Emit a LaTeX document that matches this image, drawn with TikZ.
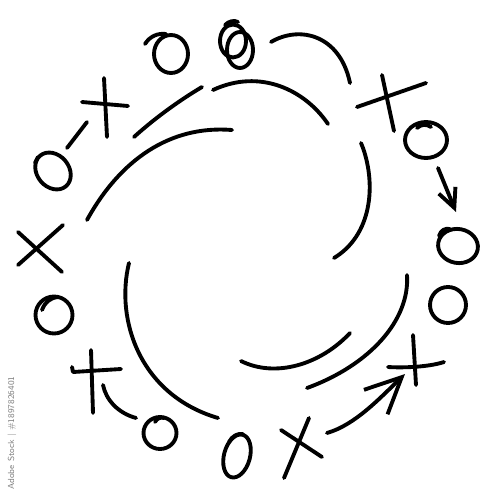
\documentclass[tikz,border=0pt]{standalone}
\usetikzlibrary{shapes.geometric, arrows.meta}

\begin{document}
\begin{tikzpicture}[x=0.02cm, y=-0.02cm,
    pen/.style = {line width=2.2pt, line cap=round, line join=round},
    ring/.style = {draw, ellipse, pen, inner sep=0pt}]

	\useasboundingbox (0,0) rectangle (500,500);

	% the O's
	\node[ring, minimum width=6.8mm, minimum height=7.6mm] (O1) at (171,54) {};
	\node[ring, minimum width=5.2mm, minimum height=6.6mm] (O2) at (233,41) {};
	\node[ring, minimum width=5.2mm, minimum height=7.2mm] (O2b) at (240,50) {};
	\node[ring, minimum width=6.4mm, minimum height=8mm, rotate=40] (O3) at (53,171) {};
	\node[ring, minimum width=7.4mm, minimum height=7.4mm] (O4) at (54,315) {};
	\node[ring, minimum width=6.6mm, minimum height=6.4mm] (O5) at (160,433) {};
	\node[ring, minimum width=5.2mm, minimum height=8.8mm, rotate=-15] (O6) at (237,456) {};
	\node[ring, minimum width=8.4mm, minimum height=7.2mm] (O7) at (426,140) {};
	\node[ring, minimum width=8mm, minimum height=6.8mm, rotate=-10] (O8) at (458,246) {};
	\node[ring, minimum width=7.2mm, minimum height=7.2mm] (O9) at (448,305) {};

	% pen strokes where the O's start
	\draw[pen] (145,44) .. controls (150,36) and (158,33) .. (166,34);
	\draw[pen] (225,25) .. controls (229,21) and (234,20) .. (238,22);
	\draw[pen] (35,163) -- (38,157);
	\draw[pen] (42,310) .. controls (45,302) and (50,298) .. (58,297);
	\draw[pen] (155,422) .. controls (157,418) and (161,417) .. (164,418);
	\draw[pen] (229,442) .. controls (232,436) and (238,433) .. (243,434);
	\draw[pen] (417,128) .. controls (421,124) and (427,124) .. (431,127);
	\draw[pen] (439,236) .. controls (441,230) and (445,228) .. (450,229);

	% the X's
	\coordinate (X1) at (105,104);
	\coordinate (X2) at (40,248);
	\coordinate (X3) at (92,370);
	\coordinate (X4) at (300,440);
	\coordinate (X5) at (414,364);
	\coordinate (X6) at (390,95);

	\draw[pen] (X1) ++(-23,-2) -- ++(46,4);
	\draw[pen] (X1) ++(-1,-26) -- ++(3,59);
	\draw[pen] (X2) ++(-22,-16) -- ++(44,40);
	\draw[pen] (X2) ++(23,-23) -- ++(-45,40);
	\draw[pen] (X3) ++(-20,-3) -- ++(1,5) -- ++(48,-3);
	\draw[pen] (X3) ++(-1,-20) -- ++(2,63);
	\draw[pen] (X4) ++(-19,-10) -- ++(41,27);
	\draw[pen] (X4) ++(9,-22) -- ++(-25,60);
	\draw[pen] (X5) ++(-26,3) .. controls ++(15,1) and ++(-15,5) .. ++(56,-5);
	\draw[pen] (X5) ++(-1,-29) -- ++(3,50);
	\draw[pen] (X6) ++(-33,12) -- ++(69,-24);
	\draw[pen] (X6) ++(-8,-20) -- ++(12,56);

	% moves
	\coordinate (m1) at (67,148);
	\coordinate (m2) at (87,122);
	\coordinate (m3) at (271,42);
	\coordinate (m4) at (350,83);
	\coordinate (m5) at (438,168);
	\coordinate (m6) at (456,212);
	\coordinate (m7) at (103,385);
	\coordinate (m8) at (136,418);
	\coordinate (m9) at (327,433);
	\coordinate (m10) at (405,374);

	\draw[pen] (m1) -- (m2);
	\draw[pen] (m3) .. controls (300,25) and (340,35) .. (m4);
	\draw[pen, -{Straight Barb[length=3.8mm, width=3.6mm]}] (m5) -- (m6);
	\draw[pen] (m7) .. controls (106,400) and (118,413) .. (m8);
	\draw[pen, -{Straight Barb[length=7.2mm, width=6.8mm]}] (m9) .. controls (355,425) and (380,398) .. (m10);

	% the swirl in the middle
	\draw[pen] (134,137) .. controls (155,118) and (180,100) .. (202,87);
	\draw[pen] (213,90) .. controls (260,68) and (305,90) .. (328,124);
	\draw[pen] (87,220) .. controls (120,160) and (170,125) .. (232,130);
	\draw[pen] (361,143) -- (363,148) .. controls (376,185) and (372,235) .. (334,258);
	\draw[pen] (129,263) .. controls (115,320) and (140,395) .. (218,418);
	\draw[pen] (241,361) .. controls (275,378) and (320,365) .. (350,333);
	\draw[pen] (407,275) .. controls (410,320) and (370,365) .. (307,388);

	\node[gray, rotate=90, font=\fontsize{5}{6}\sffamily] (mark) at (12,433) {Adobe Stock | \#1897826401};
\end{tikzpicture}
\end{document}
